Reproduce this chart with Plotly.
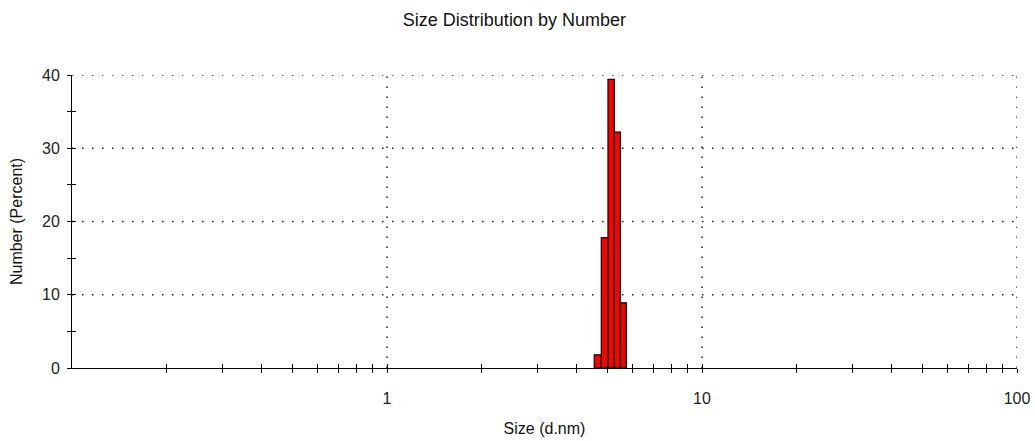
import plotly.graph_objects as go

# Data
bin_edges = [4.55, 4.79, 5.03, 5.27, 5.51, 5.75]   # d.nm
number_pct = [1.8, 17.8, 39.4, 32.2, 8.9]           # Number (Percent)

x_tickvals = [0.2, 0.3, 0.4, 0.5, 0.6, 0.7, 0.8, 0.9, 1,
              2, 3, 4, 5, 6, 7, 8, 9, 10,
              20, 30, 40, 50, 60, 70, 80, 90, 100]
x_ticktext = ["1" if v == 1 else "10" if v == 10 else "100" if v == 100 else "" for v in x_tickvals]
y_tickvals = [0, 5, 10, 15, 20, 25, 30, 35, 40]
y_ticktext = ["0", "", "10", "", "20", "", "30", "", "40"]
grid_x = [1, 10, 100]
grid_y = [10, 20, 30, 40]

FONT = "Liberation Sans, Arial, sans-serif"

# Build bar outlines from the bin edges and values
xs, ys = [], []
for i, v in enumerate(number_pct):
    x0, x1 = bin_edges[i], bin_edges[i + 1]
    xs += [x0, x0, x1, x1, x0, None]
    ys += [0, v, v, 0, 0, None]

fig = go.Figure()

# grid lines (dotted)
gx, gy = [], []
for g in grid_x:
    gx += [g, g, None]
    gy += [0, 40, None]
for g in grid_y:
    gx += [0.1, 100, None]
    gy += [g, g, None]
fig.add_trace(go.Scatter(x=gx, y=gy, mode="lines",
                         line=dict(color="#222222", width=1.5, dash="1.5px,8.5px"),
                         hoverinfo="skip", showlegend=False))

fig.add_trace(go.Scatter(x=xs, y=ys, mode="lines", fill="toself",
                         fillcolor="#ff0000", line=dict(color="black", width=1.2),
                         showlegend=False))

fig.add_trace(go.Scatter(x=[1], y=[0], xaxis="x2", yaxis="y2", mode="markers",
                         marker=dict(opacity=0), showlegend=False, hoverinfo="skip"))

axis_common = dict(showgrid=False, zeroline=False, showline=True, linecolor="black",
                   linewidth=1, tickcolor="black", tickwidth=1, ticklen=4,
                   automargin=False,
                   tickfont=dict(family=FONT, size=16, color="#222"))

fig.update_layout(
    width=1035, height=441,
    margin=dict(l=72, r=18, t=75, b=73),
    paper_bgcolor="white", plot_bgcolor="white",
    title=dict(text="Size Distribution by Number", x=0.497, xanchor="center",
               y=0.955, yanchor="middle",
               font=dict(family=FONT, size=18, color="#111")),
    xaxis=dict(type="log", range=[-1, 2], tickmode="array", tickvals=x_tickvals,
               ticktext=x_ticktext, ticks="outside", ticklabelstandoff=12,
               title=dict(text="Size (d.nm)", font=dict(family=FONT, size=16, color="#111"),
                          standoff=16),
               **axis_common),
    yaxis=dict(range=[0, 40], tickmode="array", tickvals=y_tickvals, ticktext=y_ticktext,
               ticks="outside", ticklabelstandoff=4,
               title=dict(text="Number (Percent)", font=dict(family=FONT, size=16, color="#111"),
                          standoff=15),
               **axis_common),
    xaxis2=dict(type="log", range=[-1, 2], overlaying="x", anchor="y", side="bottom",
                tickmode="array", tickvals=x_tickvals, ticktext=["" for _ in x_tickvals],
                ticks="inside", ticklen=4, tickcolor="black", showgrid=False,
                zeroline=False, showline=False, automargin=False),
    yaxis2=dict(range=[0, 40], overlaying="y", anchor="x", side="left",
                tickmode="array", tickvals=y_tickvals, ticktext=["" for _ in y_tickvals],
                ticks="inside", ticklen=4, tickcolor="black", showgrid=False,
                zeroline=False, showline=False, automargin=False),
)

fig.write_html("out.html")
